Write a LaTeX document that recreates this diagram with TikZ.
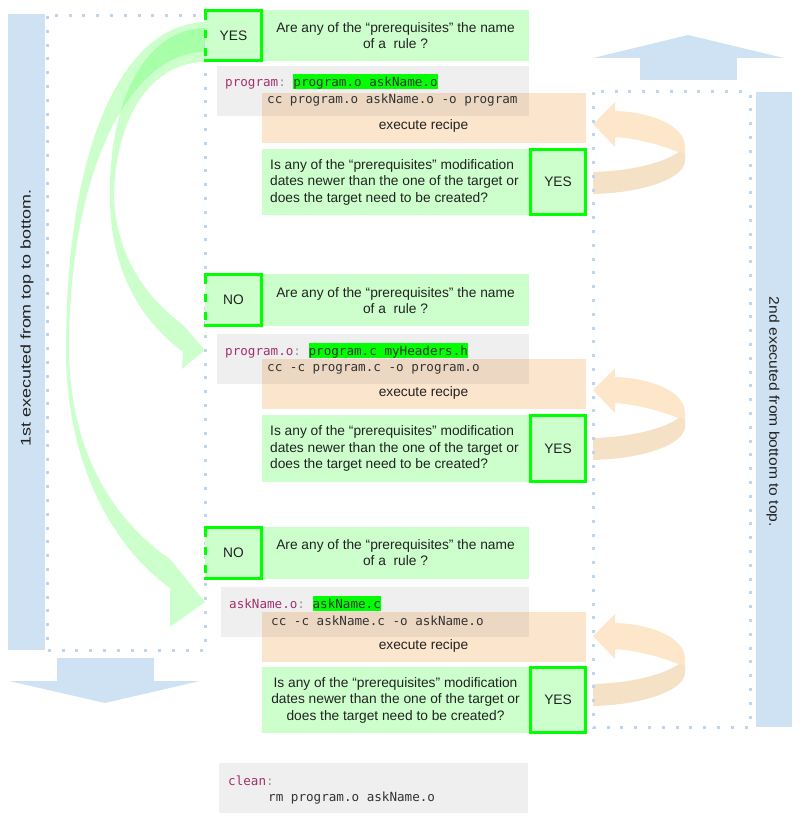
\documentclass[tikz,border=0pt]{standalone}
\usepackage{fontspec}
\usepackage{graphicx}
\setmainfont{Liberation Sans}
\setmonofont{DejaVu Sans Mono}
\definecolor{barblue}{HTML}{CFE2F3}
\definecolor{dotblue}{HTML}{BFD5EE}
\definecolor{boxgreen}{HTML}{CCFFCC}
\definecolor{brightgreen}{HTML}{00FF00}
\definecolor{codegrey}{HTML}{EFEFEF}
\definecolor{recipe}{HTML}{FCE5CD}
\definecolor{overlapc}{HTML}{ECD8C2}
\definecolor{kw}{HTML}{A3316F}
\definecolor{punc}{HTML}{999999}
\definecolor{codec}{HTML}{333333}
\definecolor{txt}{HTML}{222222}
\definecolor{loopA}{HTML}{FDE6C9}
\definecolor{loopB}{HTML}{F5E2C6}
\definecolor{garrowc}{RGB}{60,255,60}
\newcommand\hlg[1]{{\setlength{\fboxsep}{0pt}\colorbox{brightgreen}{\rule[-2.7pt]{0pt}{15.2pt}#1}}}
\tikzset{
  sanstxt/.style={font=\fontsize{13.75}{16.5}\selectfont, text=txt, inner sep=0pt},
  codetxt/.style={font=\ttfamily\fontsize{12.6}{15}\selectfont, text=codec, inner sep=0pt, anchor=base west},
  vtxt/.style={font=\fontsize{14}{16}\selectfont, text=txt, inner sep=0pt},
  ansborder/.style={draw=brightgreen, line width=3pt},
  ansdash/.style={draw=brightgreen, line width=3pt, dash pattern=on 8pt off 10pt},
  dotline/.style={draw=dotblue, line width=3pt, dash pattern=on 3pt off 10.8pt},
  garrow/.style={fill=garrowc, fill opacity=0.26},
  loopa/.style={fill=loopA},
  loopb/.style={fill=loopB},
}
\begin{document}
\begin{tikzpicture}[x=1pt,y=-1pt]
\useasboundingbox (0,0) rectangle (800,829);

% blue bars and block arrows
\fill[barblue] (8,14) rectangle (45,650);
\fill[barblue] (57,658) rectangle (153.5,681);
\fill[barblue] (9,681) -- (200,681) -- (105,703) -- cycle;
\fill[barblue] (756,92) rectangle (792,727);
\fill[barblue] (640,57) rectangle (737,80);
\fill[barblue] (593,58) -- (784,58) -- (688,35) -- cycle;

% green curved arrows
\fill[garrow] (205,22) .. controls (120,25) and (66,150) .. (66,350)
  .. controls (66,460) and (110,545) .. (170,588) -- (170,627) -- (205,602) -- (170,559)
  .. controls (120,525) and (70,460) .. (69,350)
  .. controls (69,170) and (130,52) .. (205,52) -- cycle;
\fill[garrow] (205,28) .. controls (140,30) and (108,110) .. (110,200)
  .. controls (111,270) and (140,320) .. (183,352) -- (182,369) -- (205,350) -- (183,325)
  .. controls (150,300) and (118,262) .. (114,200)
  .. controls (114,120) and (150,62) .. (205,62) -- cycle;

% orange loop arrows
\foreach \dy in {0,266,512}{
  \begin{scope}[yshift=-\dy pt]
    \fill[loopa] (593,124) -- (615,102) -- (615,111) .. controls (650,112) and (685,125) .. (685,147)
      -- (685,156) -- (678,152) .. controls (660,145) and (640,139) .. (615,137) -- (615,147) -- cycle;
    \fill[loopb] (593,172) .. controls (630,171) and (665,163) .. (680,151) -- (685,154) -- (685,162)
      .. controls (682,180) and (640,193) .. (593,194) -- cycle;
  \end{scope}
}

% dotted frames
\draw[dotline] (47,16) rectangle (205,650);
\draw[dotline] (593,92) rectangle (750,727);

% ---------- top block ----------
\fill[boxgreen] (205,10) rectangle (529,61);
\draw[ansborder] (204,10.5) -- (261.5,10.5) -- (261.5,60.5) -- (204,60.5);
\draw[ansdash] (205.5,12) -- (205.5,59);
\fill[codegrey] (217,66) rectangle (529,116);
\fill[recipe] (262,93) rectangle (586,143);
\fill[overlapc] (262,93) rectangle (529,116);
\fill[boxgreen] (262,149) rectangle (529,215);
\fill[boxgreen] (529,148) rectangle (587,216);
\draw[ansborder] (530.5,149.5) rectangle (585.5,214.5);
\node[sanstxt] (a1) at (233.5,35.5) {YES};
\node[sanstxt, align=center] (q1) at (395.5,35.5) {Are any of the “prerequisites” the name\\of a~\ rule ?};
\node[codetxt] (c1a) at (225,86.7) {{\color{kw}program}{\color{punc}:} \hlg{program.o askName.o}};
\node[codetxt] (c1b) at (267,104) {cc program.o askName.o -o program};
\node[sanstxt, anchor=base] (e1) at (423.5,130) {execute recipe};
\node[sanstxt, align=left, anchor=west] (r1) at (270,182) {Is any of the “prerequisites” modification\\dates newer than the one of the target or\\does the target need to be created?};
\node[sanstxt] (y1) at (558,182) {YES};

% ---------- middle block ----------
\fill[boxgreen] (205,274) rectangle (529,326);
\draw[ansborder] (204,274.5) -- (261.5,274.5) -- (261.5,325) -- (204,325);
\draw[ansdash] (205.5,276) -- (205.5,324);
\fill[codegrey] (217,334) rectangle (529,384);
\fill[recipe] (262,359) rectangle (586,409);
\fill[overlapc] (262,359) rectangle (529,384);
\fill[boxgreen] (262,415) rectangle (529,482);
\fill[boxgreen] (529,414) rectangle (587,483);
\draw[ansborder] (530.5,415.5) rectangle (585.5,481.5);
\node[sanstxt] (a2) at (233.5,300) {NO};
\node[sanstxt, align=center] (q2) at (395.5,300.5) {Are any of the “prerequisites” the name\\of a~\ rule ?};
\node[codetxt] (c2a) at (225,355) {{\color{kw}program.o}{\color{punc}:} \hlg{program.c myHeaders.h}};
\node[codetxt] (c2b) at (267,371.7) {cc -c program.c -o program.o};
\node[sanstxt, anchor=base] (e2) at (423.5,396.7) {execute recipe};
\node[sanstxt, align=left, anchor=west] (r2) at (270,448.5) {Is any of the “prerequisites” modification\\dates newer than the one of the target or\\does the target need to be created?};
\node[sanstxt] (y2) at (558,448.5) {YES};

% ---------- bottom block ----------
\fill[boxgreen] (205,527) rectangle (529,579);
\draw[ansborder] (204,527.5) -- (261.5,527.5) -- (261.5,578) -- (204,578);
\draw[ansdash] (205.5,529) -- (205.5,577);
\fill[codegrey] (221,587) rectangle (529,637);
\fill[recipe] (262,612) rectangle (586,662);
\fill[overlapc] (262,612) rectangle (529,637);
\fill[boxgreen] (262,667) rectangle (529,733);
\fill[boxgreen] (529,666) rectangle (587,734);
\draw[ansborder] (530.5,667.5) rectangle (585.5,732.5);
\node[sanstxt] (a3) at (233.5,553) {NO};
\node[sanstxt, align=center] (q3) at (395.5,552.5) {Are any of the “prerequisites” the name\\of a~\ rule ?};
\node[codetxt] (c3a) at (229,608.3) {{\color{kw}askName.o}{\color{punc}:} \hlg{askName.c}};
\node[codetxt] (c3b) at (271,625) {cc -c askName.c -o askName.o};
\node[sanstxt, anchor=base] (e3) at (423.5,649) {execute recipe};
\node[sanstxt, align=center] (r3) at (395.5,700) {Is any of the “prerequisites” modification\\dates newer than the one of the target or\\does the target need to be created?};
\node[sanstxt] (y3) at (558,700) {YES};

% ---------- clean ----------
\fill[codegrey] (219,763) rectangle (528,813);
\node[codetxt] (c4a) at (228,785) {{\color{kw}clean}{\color{punc}:}};
\node[codetxt] (c4b) at (268,801.7) {rm program.o askName.o};

% vertical labels
\node[vtxt, rotate=90] (lefttxt) at (27,318) {\scalebox{1.28}[1]{1st executed from top to bottom.}};
\node[vtxt, rotate=-90] (righttxt) at (773,412) {\scalebox{1.12}[1]{2nd executed from bottom to top.}};
\end{tikzpicture}
\end{document}
